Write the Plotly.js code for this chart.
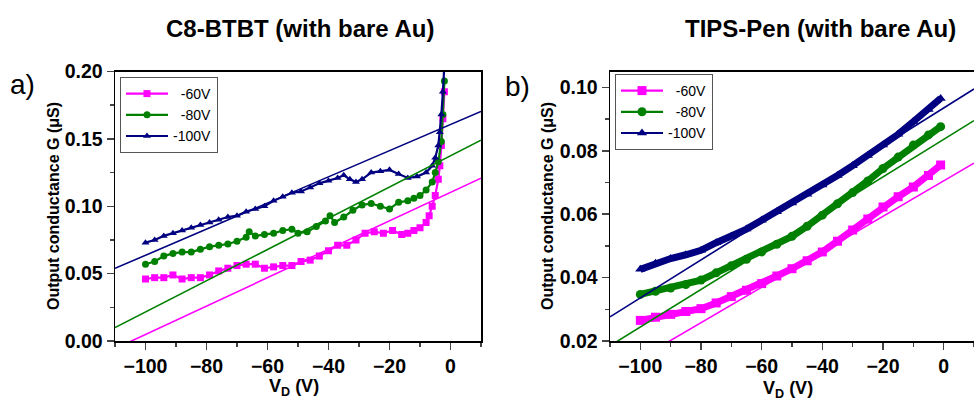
<!DOCTYPE html>
<html>
<head>
<meta charset="utf-8">
<script src="https://cdn.plot.ly/plotly-3.0.1.min.js"></script>
<style>html,body{margin:0;padding:0;background:#fff;}#chart{width:974px;height:402px;}</style>
</head>
<body>
<div id="chart"></div>
<script>
// ---------- Panel a) C8-BTBT ----------
const a60x = [-100,-97,-94,-91,-88,-85,-82,-79,-76,-73,-70,-67,-64,-61,-58,-55,-52,-49,-46,-43,-40,-37,-34,-31,-28,-25,-22,-19,-16,-14,-12,-10,-8,-7,-6,-5,-4,-3.5,-3,-2.5,-2];
const a60y = [0.046,0.047,0.047,0.049,0.046,0.047,0.047,0.049,0.052,0.054,0.056,0.057,0.057,0.054,0.055,0.056,0.056,0.059,0.060,0.063,0.067,0.071,0.071,0.075,0.080,0.081,0.080,0.082,0.079,0.080,0.082,0.084,0.088,0.093,0.100,0.108,0.120,0.130,0.145,0.165,0.185];
const a80x = [-100,-97,-94,-91,-88,-85,-82,-79,-76,-73,-70,-67,-66,-64,-61,-58,-55,-52,-50,-47,-44,-41,-39.5,-38,-35,-32,-29,-26,-23,-20,-17,-14,-12,-10,-8,-6,-5,-4,-3,-2.5,-2];
const a80y = [0.057,0.059,0.063,0.065,0.066,0.066,0.068,0.070,0.071,0.072,0.074,0.077,0.081,0.078,0.079,0.080,0.082,0.083,0.080,0.081,0.085,0.089,0.093,0.088,0.092,0.097,0.101,0.102,0.100,0.098,0.103,0.104,0.106,0.108,0.112,0.118,0.125,0.133,0.148,0.168,0.193];
const a100x = [-100,-97,-94,-91,-88,-85,-82,-79,-76,-73,-70,-67,-64,-61,-58,-55,-52,-49,-46,-43,-40,-37,-35,-33,-31,-29,-26,-23,-20,-17,-14,-11,-8,-6,-5,-4,-3.5,-3,-2.5,-2];
const a100y = [0.073,0.075,0.078,0.080,0.082,0.084,0.086,0.088,0.090,0.092,0.093,0.096,0.098,0.100,0.104,0.107,0.110,0.111,0.114,0.117,0.119,0.121,0.123,0.120,0.118,0.120,0.125,0.126,0.127,0.124,0.121,0.122,0.125,0.130,0.136,0.145,0.155,0.168,0.185,0.205];
// linear fits (endpoints at x = -110 and 10)
const fitX = [-110, 10];
const aFit60 = [-0.0057, 0.1208];
const aFit80 = [0.0099, 0.1490];
const aFit100 = [0.0539, 0.1704];

// ---------- Panel b) TIPS-Pen ----------
const bx = [-100,-95,-90,-85,-80,-75,-70,-65,-60,-55,-50,-45,-40,-35,-30,-25,-20,-15,-10,-5,-1];
const b60y = [0.0265,0.0275,0.0284,0.0293,0.0302,0.0320,0.0340,0.0360,0.0381,0.0405,0.0428,0.0453,0.0481,0.0515,0.0550,0.0585,0.0623,0.0655,0.0686,0.0722,0.0755];
const b80y = [0.0347,0.0357,0.0367,0.0378,0.0392,0.0415,0.0437,0.0458,0.0481,0.0505,0.0530,0.0562,0.0597,0.0633,0.0668,0.0705,0.0744,0.0780,0.0818,0.0850,0.0876];
const b100y = [0.0426,0.0445,0.0460,0.0472,0.0486,0.0510,0.0530,0.0553,0.0581,0.0608,0.0635,0.0663,0.0692,0.0722,0.0753,0.0785,0.0818,0.0852,0.0892,0.0930,0.0965];
const bFit60 = [0.0090, 0.0761];
const bFit80 = [0.0185, 0.0895];
const bFit100 = [0.0276, 0.0995];

const names = ['\u00a0\u00a0-60V','\u00a0\u00a0-80V','-100V'];
const colors = ['#FF00FF','#008000','#000080'];
const symbols = ['square','circle','triangle-up'];

const FONT = 'Liberation Sans, Arial, sans-serif';
const traces = [];
function addSet(xs, ys, fits, xa, ya, leg, band, ms) {
  for (let i = 0; i < 3; i++) {
    if (band) {
      traces.push({x: xs[i], y: ys[i], xaxis: xa, yaxis: ya, type: 'scatter', mode: 'lines',
        showlegend: false, line: {color: colors[i], width: band}});
    }
    traces.push({x: xs[i], y: ys[i], xaxis: xa, yaxis: ya, type: 'scatter', mode: 'lines+markers',
      name: names[i], legend: leg,
      line: {color: colors[i], width: 2.2}, marker: {symbol: symbols[i], color: colors[i], size: ms}});
  }
  for (let i = 0; i < 3; i++) {
    traces.push({x: fitX, y: fits[i], xaxis: xa, yaxis: ya, type: 'scatter', mode: 'lines',
      showlegend: false, line: {color: colors[i], width: 1.6}});
  }
}
addSet([a60x, a80x, a100x], [a60y, a80y, a100y], [aFit60, aFit80, aFit100], 'x', 'y', 'legend', 0, 7);
addSet([bx, bx, bx], [b60y, b80y, b100y], [bFit60, bFit80, bFit100], 'x2', 'y2', 'legend2', 7, 9);

const tickF = {family: FONT, size: 19.5, color: '#000', weight: 'bold'};
function xax(dom, anchor) {
  return {domain: dom, anchor: anchor, range: [-110, 10], dtick: 20, tick0: 0, ticks: 'outside', ticklen: 7, tickwidth: 1.5,
    showline: true, linecolor: '#000', linewidth: 1.5, mirror: true, showgrid: false, zeroline: false,
    tickfont: tickF, minor: {dtick: 10, ticks: 'outside', ticklen: 4, tickwidth: 1.5, showgrid: false}};
}
function yax(dom, anchor, range, dtick, mdtick, mirror) {
  return {domain: dom, anchor: anchor, range: range, dtick: dtick, tick0: 0, ticks: 'outside', ticklen: 7, tickwidth: 1.5,
    showline: true, linecolor: '#000', linewidth: 1.5, mirror: mirror, showgrid: false, zeroline: false,
    tickformat: '.2f', tickfont: tickF, minor: {dtick: mdtick, ticks: 'outside', ticklen: 4, tickwidth: 1.5, showgrid: false}};
}
const W = 974, H = 402;
const px = v => v / W, py = v => 1 - v / H;
const yDom = [py(341), py(71.5)];

const legStyle = {font: {family: FONT, size: 14, color: '#000'}, bgcolor: 'rgba(255,255,255,0)', bordercolor: '#555', borderwidth: 1,
  xanchor: 'left', yanchor: 'top', itemwidth: 42, tracegroupgap: 0};

const layout = {
  width: W, height: H, margin: {l: 0, r: 0, t: 0, b: 0}, paper_bgcolor: '#fff', plot_bgcolor: '#fff',
  showlegend: true,
  xaxis: xax([px(115), px(481)], 'y'),
  yaxis: yax(yDom, 'x', [0, 0.2], 0.05, 0.025, true),
  xaxis2: xax([px(610), 1], 'y2'),
  yaxis2: yax(yDom, 'x2', [0.02, 0.105], 0.02, 0.01, false),
  legend: Object.assign({x: px(120), y: py(77)}, legStyle),
  legend2: Object.assign({x: px(615), y: py(74)}, legStyle),
  annotations: [
    {text: 'C8-BTBT (with bare Au)', x: px(300), y: py(29), xref: 'paper', yref: 'paper', xanchor: 'center', yanchor: 'middle', showarrow: false,
      font: {family: FONT, size: 24, color: '#000', weight: 'bold'}},
    {text: 'TIPS-Pen (with bare Au)', x: px(820), y: py(29), xref: 'paper', yref: 'paper', xanchor: 'center', yanchor: 'middle', showarrow: false,
      font: {family: FONT, size: 24, color: '#000', weight: 'bold'}},
    {text: 'a)', x: px(22), y: py(85), xref: 'paper', yref: 'paper', xanchor: 'center', yanchor: 'middle', showarrow: false,
      font: {family: FONT, size: 28, color: '#000'}},
    {text: 'b)', x: px(517), y: py(87), xref: 'paper', yref: 'paper', xanchor: 'center', yanchor: 'middle', showarrow: false,
      font: {family: FONT, size: 28, color: '#000'}},
    {text: 'Output conductance G (\u03bcS)', x: px(53), y: py(206), xref: 'paper', yref: 'paper', textangle: -90, xanchor: 'center', yanchor: 'middle', showarrow: false,
      font: {family: FONT, size: 16, color: '#000', weight: 'bold'}},
    {text: 'Output conductance G (\u03bcS)', x: px(547), y: py(206), xref: 'paper', yref: 'paper', textangle: -90, xanchor: 'center', yanchor: 'middle', showarrow: false,
      font: {family: FONT, size: 16, color: '#000', weight: 'bold'}},
    {text: 'V<sub>D</sub> (V)', x: px(294), y: py(387), xref: 'paper', yref: 'paper', xanchor: 'center', yanchor: 'middle', showarrow: false,
      font: {family: FONT, size: 18, color: '#000', weight: 'bold'}},
    {text: 'V<sub>D</sub> (V)', x: px(788), y: py(389), xref: 'paper', yref: 'paper', xanchor: 'center', yanchor: 'middle', showarrow: false,
      font: {family: FONT, size: 18, color: '#000', weight: 'bold'}}
  ]
};
Plotly.newPlot('chart', traces, layout, {displayModeBar: false, staticPlot: true});
</script>
</body>
</html>
